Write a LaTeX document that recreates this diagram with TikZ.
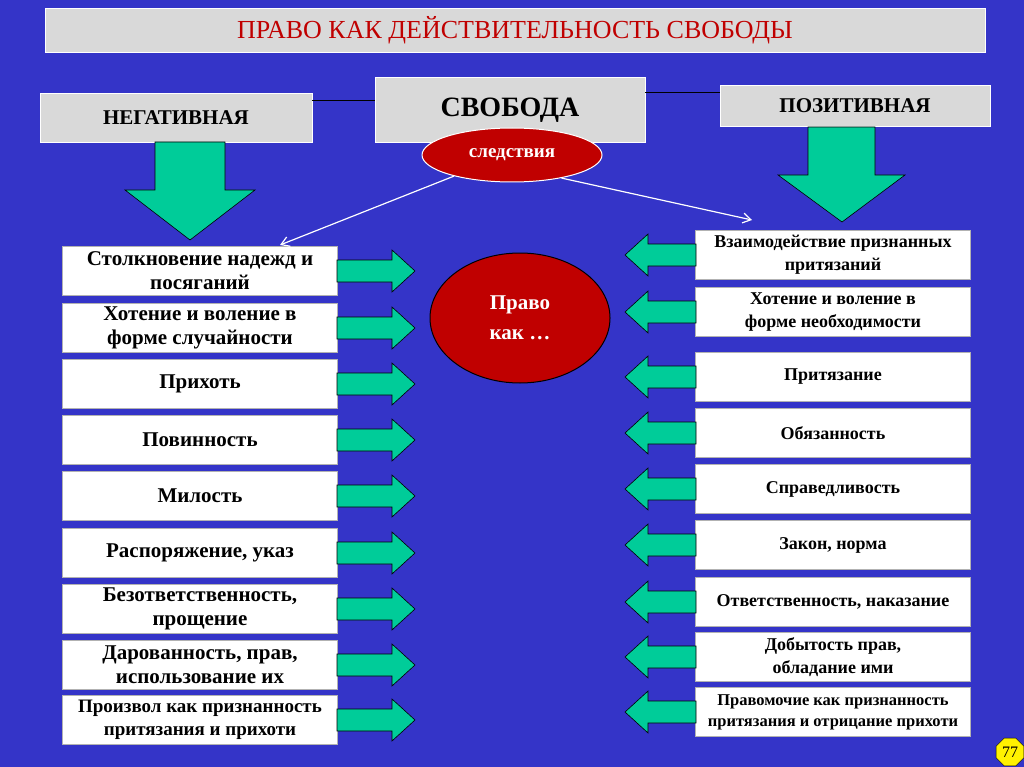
\documentclass[tikz,border=0pt]{standalone}
\usepackage{fontspec}
\setmainfont{Liberation Serif}
\usetikzlibrary{shapes.geometric,arrows.meta}
\definecolor{bg}{HTML}{3434C8}
\definecolor{grn}{HTML}{00CC99}
\definecolor{dred}{HTML}{C00000}
\definecolor{gbox}{HTML}{D9D9D9}
\begin{document}
\begin{tikzpicture}[x=1pt,y=-1pt,
  wbox/.style={draw=gray!60,fill=white,minimum width=275pt,minimum height=49pt,align=center,font=\bfseries\fontsize{21}{24}\selectfont,inner sep=1pt},
  gb/.style={fill=gbox,draw=white,align=center},
  rarr/.style={fill=grn,draw=black,line width=0.6pt},
  wl/.style={draw=white,line width=1.2pt,-{Straight Barb[length=8pt,width=10pt]}}]
\fill[bg] (0,0) rectangle (1024,767);
\useasboundingbox (0,0) rectangle (1024,767);
\node[gb,minimum width=940pt,minimum height=44pt,font=\fontsize{26}{30}\selectfont,text=dred] (title) at (515,30) {ПРАВО КАК ДЕЙСТВИТЕЛЬНОСТЬ СВОБОДЫ};
\node[gb,minimum width=270pt,minimum height=65pt,font=\bfseries\fontsize{28}{32}\selectfont] (svo) at (510,110) {СВОБОДА};
\node[gb,minimum width=272pt,minimum height=49pt,font=\bfseries\fontsize{21}{24}\selectfont] (neg) at (176,118) {НЕГАТИВНАЯ};
\node[gb,minimum width=270pt,minimum height=41pt,font=\bfseries\fontsize{21}{24}\selectfont] (pos) at (855,106) {ПОЗИТИВНАЯ};
\draw[black,line width=1pt] (neg.east |- 0,101) -- (svo.west |- 0,101);
\draw[black,line width=1pt] (svo.east |- 0,93) -- (pos.west |- 0,93);
\node[ellipse,fill=dred,draw=white,line width=1pt,minimum width=180pt,minimum height=54pt,inner sep=0pt,text=white,font=\bfseries\fontsize{19}{22}\selectfont] (sl) at (512,155) {следствия};
\node[ellipse,fill=dred,draw=black,line width=1pt,minimum width=180pt,minimum height=130pt,text=white,align=center,font=\bfseries\fontsize{21}{30}\selectfont] (pk) at (520,318) {Право\\ как \dots};
% big down arrows
\draw[rarr] (155,142) -- (225,142) -- (225,190) -- (255,190) -- (190,240) -- (125,190) -- (155,190) -- cycle;
\draw[rarr] (808,127) -- (875,127) -- (875,175) -- (905,175) -- (842,222) -- (778,175) -- (808,175) -- cycle;
% left column
\foreach \n/\y/\t in {l1/271/{Столкновение надежд и\\посяганий},l2/328/{Хотение и воление в\\форме случайности},l3/384/Прихоть,l4/440/Повинность,l5/496/Милость,l6/553/{Распоряжение, указ},l7/609/{Безответственность,\\прощение},l8/665/{Дарованность, прав,\\использование их}}{
  \node[wbox] (\n) at (200,\y) {\t};
  \draw[rarr] (337,\y-11) -- (392,\y-11) -- (392,\y-21) -- (415,\y) -- (392,\y+21) -- (392,\y+11) -- (337,\y+11) -- cycle;
}
\node[wbox,font=\bfseries\fontsize{19}{23}\selectfont] (l9) at (200,720) {Произвол как признанность\\притязания и прихоти};
\draw[rarr] (337,709) -- (392,709) -- (392,699) -- (415,720) -- (392,741) -- (392,731) -- (337,731) -- cycle;
% right column
\foreach \n/\y/\t in {r1/255/{Взаимодействие признанных\\притязаний},r2/312/{Хотение и воление в\\форме необходимости},r3/377/Притязание,r4/433/Обязанность,r5/489/Справедливость,r6/545/{Закон, норма},r7/602/{Ответственность, наказание},r8/657/{Добытость прав,\\обладание ими}}{
  \node[wbox,font=\bfseries\fontsize{18}{23}\selectfont] (\n) at (833,\y) {\t};
  \draw[rarr] (696,\y-11) -- (648,\y-11) -- (648,\y-21) -- (625,\y) -- (648,\y+21) -- (648,\y+11) -- (696,\y+11) -- cycle;
}
\node[wbox,font=\bfseries\fontsize{16.5}{21}\selectfont] (r9) at (833,712) {Правомочие как признанность\\притязания и отрицание прихоти};
\draw[rarr] (696,701) -- (648,701) -- (648,691) -- (625,712) -- (648,733) -- (648,723) -- (696,723) -- cycle;
\draw[wl] (sl.200) -- (280,245);
\draw[wl] (sl.-25) -- (752,220);
\node[regular polygon,regular polygon sides=8,fill=yellow,draw=black,minimum size=30pt,inner sep=0pt,font=\fontsize{16}{18}\selectfont] (pg) at (1010,752) {77};
\end{tikzpicture}
\end{document}
